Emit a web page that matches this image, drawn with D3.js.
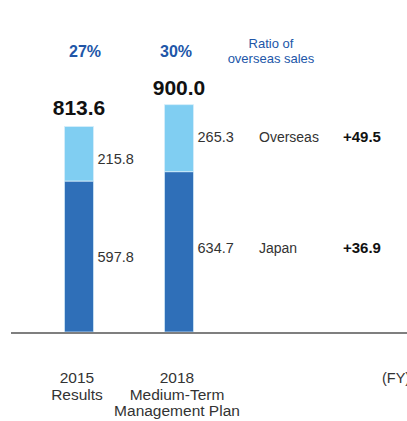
<!DOCTYPE html>
<meta charset="utf-8">
<script src="https://d3js.org/d3.v7.min.js"></script>
<style>
  body { margin: 0; background: #fff; font-family: Helvetica, Arial, "Liberation Sans", sans-serif; }
</style>
<div id="chart"></div>
<script>
var categories = ["2015", "2018"];
var catLabels = [["2015", "Results"], ["2018", "Medium-Term", "Management Plan"]];
var japan = [597.8, 634.7];
var overseas = [215.8, 265.3];
var totals = ["813.6", "900.0"];
var ratios = ["27%", "30%"];
var seriesNames = ["Overseas", "Japan"];
var changes = ["+49.5", "+36.9"];

var width = 407, height = 421;

var svg = d3.select("#chart").append("svg")
  .attr("width", width)
  .attr("height", height);

var x = d3.scalePoint().domain(categories).range([79, 179]);
var barW = 29;
var y = d3.scaleLinear().domain([0, 900]).range([332, 104.7]);

var data = categories.map(function(c, i) {
  return { cat: c, japan: japan[i], overseas: overseas[i], total: totals[i], ratio: ratios[i], lines: catLabels[i] };
});

// label nudges (px below segment middle), per bar: [overseas, japan]
var nudge = [[10.5, 5], [4, 1]];

// bars
var g = svg.append("g");
g.selectAll(".jp").data(data).enter().append("rect")
  .attr("x", function(d) { return x(d.cat) - barW / 2; })
  .attr("y", function(d) { return y(d.japan); })
  .attr("width", barW)
  .attr("height", function(d) { return y(0) - y(d.japan); })
  .attr("fill", "#2f6fb8")
  .attr("stroke", "#cfe6f7").attr("stroke-width", 0.8);

g.selectAll(".os").data(data).enter().append("rect")
  .attr("x", function(d) { return x(d.cat) - barW / 2; })
  .attr("y", function(d) { return y(d.japan + d.overseas); })
  .attr("width", barW)
  .attr("height", function(d) { return y(d.japan) - y(d.japan + d.overseas); })
  .attr("fill", "#80cef2")
  .attr("stroke", "#d6eefa").attr("stroke-width", 0.8);

// baseline
svg.append("line")
  .attr("x1", 11).attr("x2", 407)
  .attr("y1", y(0) + 1).attr("y2", y(0) + 1)
  .attr("stroke", "#7f7f7f").attr("stroke-width", 2);

// segment values
g.selectAll(".jpv").data(data).enter().append("text")
  .attr("x", function(d) { return x(d.cat) + barW / 2 + 4; })
  .attr("y", function(d, i) { return (y(0) + y(d.japan)) / 2 + nudge[i][1]; })
  .attr("font-size", 14.5).attr("fill", "#333")
  .text(function(d) { return d.japan.toFixed(1); });

g.selectAll(".osv").data(data).enter().append("text")
  .attr("x", function(d) { return x(d.cat) + barW / 2 + 4; })
  .attr("y", function(d, i) { return (y(d.japan) + y(d.japan + d.overseas)) / 2 + nudge[i][0]; })
  .attr("font-size", 14.5).attr("fill", "#333")
  .text(function(d) { return d.overseas.toFixed(1); });

// totals
g.selectAll(".tot").data(data).enter().append("text")
  .attr("x", function(d) { return x(d.cat); })
  .attr("y", function(d, i) { return y(d.japan + d.overseas) - (i === 0 ? 11.5 : 10); })
  .attr("text-anchor", "middle")
  .attr("font-size", 21).attr("font-weight", "bold").attr("fill", "#111")
  .text(function(d) { return d.total; });

// ratios
g.selectAll(".ratio").data(data).enter().append("text")
  .attr("x", function(d) { return x(d.cat) + (d.cat === "2015" ? 6 : -3); })
  .attr("y", 57)
  .attr("text-anchor", "middle")
  .attr("font-size", 16).attr("font-weight", "bold").attr("fill", "#2156a8")
  .text(function(d) { return d.ratio; });

var ratioTitle = svg.append("text")
  .attr("text-anchor", "middle")
  .attr("font-size", 13).attr("fill", "#2156a8");
ratioTitle.append("tspan").attr("x", 271).attr("y", 48).text("Ratio of");
ratioTitle.append("tspan").attr("x", 271).attr("y", 63).text("overseas sales");

// series legend on the right, aligned with 2018 segments
var li = data.length - 1, last = data[li];
var legY = [
  (y(last.japan) + y(last.japan + last.overseas)) / 2 + nudge[li][0],
  (y(0) + y(last.japan)) / 2 + nudge[li][1]
];
seriesNames.forEach(function(s, i) {
  svg.append("text")
    .attr("x", 259).attr("y", legY[i])
    .attr("font-size", 14).attr("fill", "#333")
    .text(s);
  svg.append("text")
    .attr("x", 343).attr("y", legY[i])
    .attr("font-size", 15).attr("font-weight", "bold").attr("fill", "#111")
    .text(changes[i]);
});

// category labels
data.forEach(function(d) {
  var t = svg.append("text")
    .attr("text-anchor", "middle")
    .attr("font-size", 15.5).attr("fill", "#333");
  d.lines.forEach(function(l, j) {
    t.append("tspan").attr("x", x(d.cat) - 2).attr("y", 383 + j * 16.7).text(l);
  });
});

svg.append("text")
  .attr("x", 382).attr("y", 383)
  .attr("font-size", 14.5).attr("fill", "#333")
  .text("(FY)");
</script>
